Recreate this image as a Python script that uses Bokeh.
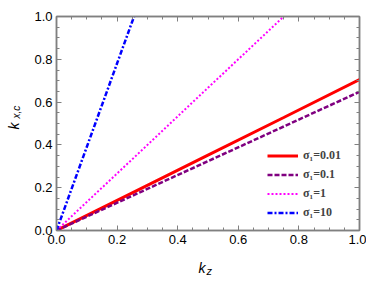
import numpy as np
from bokeh.plotting import figure
from bokeh.models import (Range1d, LinearAxis, SingleIntervalTicker, Title, Legend, LegendItem,
                          CustomJSTickFormatter)
from bokeh.embed import file_html
from bokeh.resources import INLINE

# ---- data ----
kz_red = [0.0, 0.25, 0.5, 0.75, 1.0]
kx_red = [0.0, 0.176, 0.352, 0.528, 0.705]          # sigma1 = 0.01

kz_purple = [0.0, 0.25, 0.5, 0.75, 1.0]
kx_purple = [0.0, 0.162, 0.324, 0.486, 0.648]       # sigma1 = 0.1

kz_magenta = [0.0, 0.25, 0.5, 0.75]
kx_magenta = [0.0, 0.333, 0.667, 1.0]               # sigma1 = 1

kz_blue = [0.0, 0.128, 0.256]
kx_blue = [0.0, 0.5, 1.0]                           # sigma1 = 10

labels = ["σ\u2081=0.01", "σ\u2081=0.1", "σ\u2081=1", "σ\u2081=10"]
x_ticks = [0.0, 0.2, 0.4, 0.6, 0.8, 1.0]
y_ticks = [0.0, 0.2, 0.4, 0.6, 0.8, 1.0]

GRAY = "#808080"

p = figure(width=366, height=280, output_backend="svg", toolbar_location=None,
           x_range=Range1d(0, 1), y_range=Range1d(0, 1),
           min_border_left=56, min_border_right=7, min_border_top=16, min_border_bottom=50)
p.grid.visible = False
p.outline_line_color = GRAY
p.outline_line_width = 1.5
p.background_fill_color = "white"
p.border_fill_color = "white"

for ax in (p.xaxis[0], p.yaxis[0]):
    ax.ticker = SingleIntervalTicker(interval=0.2, num_minor_ticks=4)
    ax.major_tick_in = 5
    ax.major_tick_out = 0
    ax.minor_tick_in = 3
    ax.minor_tick_out = 0
    ax.major_tick_line_color = GRAY
    ax.minor_tick_line_color = GRAY
    ax.axis_line_color = GRAY
    ax.axis_line_width = 1.5
    ax.major_label_text_font = "Liberation Sans"
    ax.major_label_text_font_size = "13px"
    ax.major_label_text_color = "black"
    ax.major_label_standoff = 4
    ax.formatter = CustomJSTickFormatter(code="return tick.toFixed(1)")

for loc in ("above", "right"):
    ax = LinearAxis(ticker=SingleIntervalTicker(interval=0.2, num_minor_ticks=4),
                    major_tick_in=5, major_tick_out=0, minor_tick_in=3, minor_tick_out=0,
                    major_tick_line_color=GRAY, minor_tick_line_color=GRAY,
                    axis_line_color=GRAY, axis_line_width=1.5,
                    formatter=CustomJSTickFormatter(code="return ''"),
                    major_label_standoff=0)
    p.add_layout(ax, loc)

r1 = p.line(kz_red, kx_red, line_color="#ff0000", line_width=3)
r2 = p.line(kz_purple, kx_purple, line_color="#800080", line_width=2.5, line_dash="5 2")
r3 = p.line(kz_magenta, kx_magenta, line_color="#ff00ff", line_width=2, line_dash="2 2")
r4 = p.line(kz_blue, kx_blue, line_color="#0000ff", line_width=2.5, line_dash="5 2 2 2")

legend = Legend(items=[LegendItem(label=labels[i], renderers=[r]) for i, r in enumerate([r1, r2, r3, r4])],
                location=(211, 10), border_line_color=None, background_fill_alpha=0,
                glyph_width=31, glyph_height=15, label_height=15, spacing=4,
                label_standoff=5, padding=0, margin=0,
                label_text_font="Liberation Serif", label_text_font_style="bold",
                label_text_font_size="12px")
p.add_layout(legend, "center")

# axis titles: k with subscripts, built from Title annotations in the side panels
common = dict(text_font="Liberation Sans", text_font_style="italic", text_color="black", align="left")
p.add_layout(Title(text="k", text_font_size="14px", offset=142, standoff=-58,
                   vertical_align="bottom", **common), "below")
p.add_layout(Title(text="z", text_font_size="11px", offset=150, standoff=-61,
                   vertical_align="bottom", **common), "below")
p.add_layout(Title(text="k", text_font_size="14px", offset=101, standoff=-51,
                   vertical_align="top", **common), "left")
p.add_layout(Title(text="x,c", text_font_size="10px", offset=112, standoff=-42,
                   vertical_align="top", **common), "left")

open("out.html", "w").write(file_html(p, INLINE))
